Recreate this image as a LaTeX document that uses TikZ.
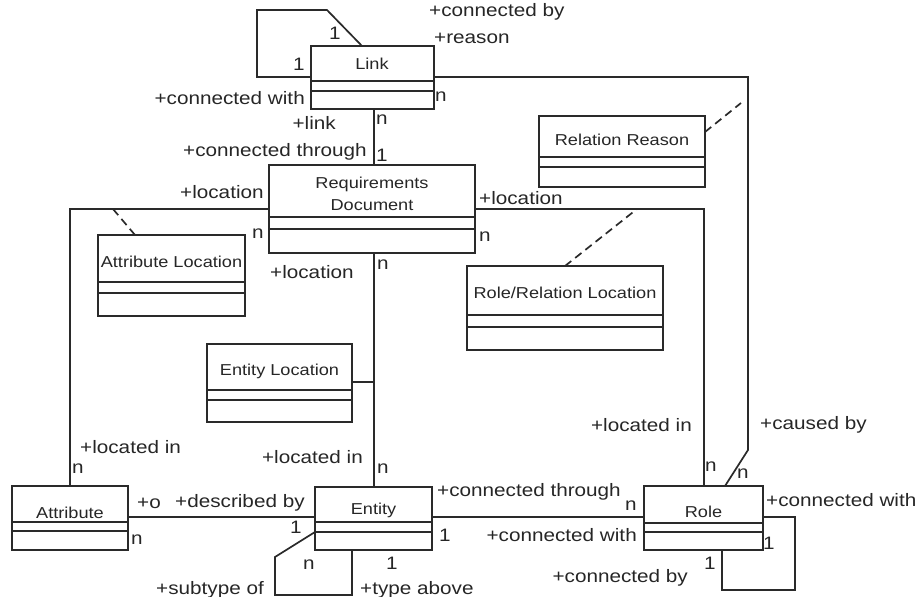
\documentclass[tikz,border=0pt]{standalone}
\usepackage{fontspec}
\setmainfont{Liberation Sans}[FakeStretch=1.15]
\definecolor{ln}{HTML}{2A2A2A}
\definecolor{txt}{HTML}{262626}
\newcommand{\umlclass}[7]{%
  \node[clsbox, minimum width={(#4-#2)*1pt}, minimum height={(#5-#3)*1pt}] (#1) at ({(#2+#4)/2},{(#3+#5)/2}) {};
  \draw[conn] (#1.west |- 0,#6) -- (#1.east |- 0,#6);
  \draw[conn] (#1.west |- 0,#7) -- (#1.east |- 0,#7);
}
\begin{document}
\begin{tikzpicture}[x=1pt,y=-1pt,line join=miter,
  conn/.style={draw=ln, line width=1.7pt},
  dashedconn/.style={conn, dash pattern=on 8pt off 5pt},
  clsbox/.style={draw=ln, line width=1.7pt, rectangle, inner sep=0pt, outer sep=0pt},
  clsname/.style={font=\fontsize{15.8}{22}\selectfont, text=txt, inner sep=0pt, align=center},
  lbl/.style={font=\fontsize{18}{20}\selectfont, text=txt, inner sep=0pt}]
\useasboundingbox (0,0) rectangle (922,597);

% classes
\umlclass{link}{311}{46}{434}{109}{81}{91}
\umlclass{req}{269}{165}{475}{253}{217}{229}
\umlclass{relreason}{539}{116}{705}{187}{157}{167}
\umlclass{attrloc}{98}{235}{245}{316}{282}{293}
\umlclass{roleloc}{467}{266}{663}{350}{315}{327}
\umlclass{entloc}{207}{344}{352}{422}{390}{400}
\umlclass{attr}{12}{486}{128}{550}{522}{531}
\umlclass{entity}{315}{487}{432}{550}{522}{532}
\umlclass{role}{644}{486}{763}{550}{523}{532}

% class names
\node[clsname] (nlink) at (372,64) {Link};
\node[clsname] (nreq) at (372,194) {Requirements\\Document};
\node[clsname] (nrelreason) at (622,140) {Relation Reason};
\node[clsname] (nattrloc) at (171.5,262) {Attribute Location};
\node[clsname] (nroleloc) at (565,293) {Role/Relation Location};
\node[clsname] (nentloc) at (279.5,371) {Entity Location};
\node[clsname] (nattr) at (70,513) {Attribute};
\node[clsname] (nentity) at (373.5,510) {Entity};
\node[clsname] (nrole) at (703.5,512) {Role};

% connectors
\draw[conn] (link.north -| 362,0) -- (327,10) -- (257,10) -- (257,77) -- (link.west |- 0,77);
\draw[conn] (link.east |- 0,77) -- (748,77) -- (748,450) -- (role.north -| 725,0);
\coordinate (rr) at (741,103);
\draw[dashedconn] (relreason.east |- 0,132) -- (rr);
\draw[conn] (link.south -| 374,0) -- (req.north -| 374,0);
\draw[conn] (req.west |- 0,209) -- (70,209) -- (attr.north -| 70,0);
\coordinate (al) at (113,209);
\draw[dashedconn] (al) -- (attrloc.north -| 135,0);
\draw[conn] (req.south -| 374,0) -- (entity.north -| 374,0);
\coordinate (el) at (374,382);
\draw[conn] (entloc.east |- el) -- (el);
\draw[conn] (req.east |- 0,209) -- (704,209) -- (role.north -| 704,0);
\coordinate (rl) at (637,209);
\draw[dashedconn] (roleloc.north -| 565,0) -- (rl);
\draw[conn] (attr.east |- 0,517) -- (entity.west |- 0,517);
\draw[conn] (entity.west |- 0,532) -- (275,557) -- (275,595) -- (352,595) -- (entity.south -| 352,0);
\draw[conn] (entity.east |- 0,517) -- (role.west |- 0,517);
\draw[conn] (role.east |- 0,517) -- (795,517) -- (795,590) -- (722,590) -- (role.south -| 722,0);

% labels
\node[lbl, anchor=west] (l1) at (429,12) {+connected by};
\node[lbl, anchor=west] (l2) at (434,38) {+reason};
\node[lbl] (l3) at (335,33) {1};
\node[lbl] (l4) at (299,64) {1};
\node[lbl] (l5) at (441,97) {n};
\node[lbl, anchor=east] (l6) at (305,98) {+connected with};
\node[lbl, anchor=east] (l7) at (336,123) {+link};
\node[lbl] (l8) at (382,120) {n};
\node[lbl, anchor=east] (l9) at (367,152) {+connected through};
\node[lbl] (l10) at (382,155) {1};
\node[lbl, anchor=west] (l11) at (180,192) {+location};
\node[lbl] (l12) at (258,234) {n};
\node[lbl, anchor=west] (l13) at (270,272) {+location};
\node[lbl] (l14) at (383,265) {n};
\node[lbl, anchor=west] (l15) at (479,198) {+location};
\node[lbl] (l16) at (485,237) {n};
\node[lbl, anchor=west] (l17) at (80,447) {+located in};
\node[lbl] (l18) at (78,469) {n};
\node[lbl, anchor=east] (l19) at (363,457) {+located in};
\node[lbl] (l20) at (383,469) {n};
\node[lbl, anchor=west] (l21) at (137,503) {+o};
\node[lbl, anchor=west] (l22) at (175,503) {+described by};
\node[lbl] (l23) at (296,527) {1};
\node[lbl] (l24) at (137,540) {n};
\node[lbl] (l25) at (309,565) {n};
\node[lbl] (l26) at (392,563) {1};
\node[lbl, anchor=east] (l27) at (264,590) {+subtype of};
\node[lbl, anchor=west] (l28) at (360,590) {+type above};
\node[lbl, anchor=west] (l29) at (437,492) {+connected through};
\node[lbl] (l30) at (631,506) {n};
\node[lbl] (l31) at (445,535) {1};
\node[lbl, anchor=east] (l32) at (637,535) {+connected with};
\node[lbl, anchor=east] (l33) at (692,425) {+located in};
\node[lbl, anchor=west] (l34) at (760,425) {+caused by};
\node[lbl] (l35) at (711,467) {n};
\node[lbl] (l36) at (743,474) {n};
\node[lbl, anchor=west] (l37) at (766,500) {+connected with};
\node[lbl] (l38) at (769,543) {1};
\node[lbl] (l39) at (710,563) {1};
\node[lbl, anchor=east] (l40) at (688,578) {+connected by};
\end{tikzpicture}
\end{document}
